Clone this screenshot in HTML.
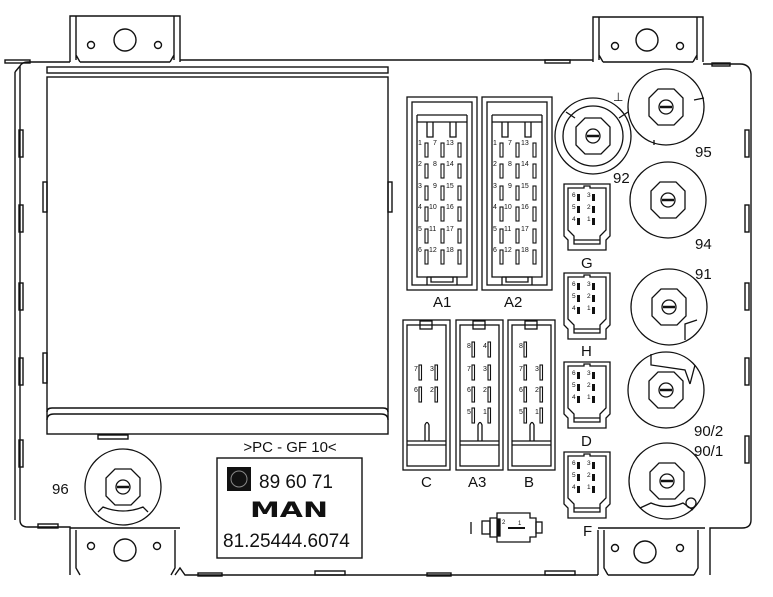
<!DOCTYPE html>
<html><head><meta charset="utf-8"><style>
html,body{margin:0;padding:0;background:#fff;}
svg{display:block;}
text{font-family:"Liberation Sans",Arial,sans-serif;fill:#111;}
</style></head><body>
<svg width="773" height="597" viewBox="0 0 773 597" xmlns="http://www.w3.org/2000/svg">
<defs>
<g id="sc" fill="none" stroke="#111" stroke-width="1.3">
  <path d="M0,0 H46 V52 L42,56 V66 H4 V56 L0,52 Z"/>
  <path d="M4,4 H20 V2 H26 V4 H42 V46 L36,52 V60 H10 V52 L4,46 Z"/>
  <line x1="10" y1="56" x2="36" y2="56"/>
  <g fill="#111" stroke="none">
    <rect x="13" y="10" width="3" height="7"/><rect x="28" y="10" width="3" height="7"/>
    <rect x="13" y="22" width="3" height="7"/><rect x="28" y="22" width="3" height="7"/>
    <rect x="13" y="34" width="3" height="7"/><rect x="28" y="34" width="3" height="7"/>
  </g>
</g>
<g id="big" fill="none" stroke="#111" stroke-width="1.3">
  <rect x="0" y="0" width="70" height="193"/>
  <rect x="5" y="5" width="60" height="183"/>
  <line x1="10" y1="18" x2="60" y2="18"/>
  <line x1="10" y1="25" x2="60" y2="25"/>
  <path d="M10,18 V180 H60 V18"/>
  <path d="M20,25 V40 H26 V25 M43,25 V40 H49 V25"/>
  <path d="M20,188 V180 M20,180 H50 V188 M24,180 V185 H46 V180"/>
  <g fill="none" stroke-width="1.1">
    <rect x="18" y="46" width="3" height="14"/><rect x="34" y="46" width="3" height="14"/><rect x="51" y="46" width="3" height="14"/>
    <rect x="18" y="67" width="3" height="14"/><rect x="34" y="67" width="3" height="14"/><rect x="51" y="67" width="3" height="14"/>
    <rect x="18" y="89" width="3" height="14"/><rect x="34" y="89" width="3" height="14"/><rect x="51" y="89" width="3" height="14"/>
    <rect x="18" y="110" width="3" height="14"/><rect x="34" y="110" width="3" height="14"/><rect x="51" y="110" width="3" height="14"/>
    <rect x="18" y="132" width="3" height="14"/><rect x="34" y="132" width="3" height="14"/><rect x="51" y="132" width="3" height="14"/>
    <rect x="18" y="153" width="3" height="14"/><rect x="34" y="153" width="3" height="14"/><rect x="51" y="153" width="3" height="14"/>
  </g>
</g>
<g id="tall" fill="none" stroke="#111" stroke-width="1.3">
  <rect x="0" y="0" width="47" height="150"/>
  <rect x="4" y="5" width="39" height="141"/>
  <rect x="17" y="1" width="12" height="8"/>
  <line x1="4" y1="121" x2="43" y2="121"/>
  <line x1="4" y1="125" x2="43" y2="125"/>
  <path d="M22,121 V105 Q24,100 26,105 V121"/>
</g>
<g id="fuse" fill="none" stroke="#111" stroke-width="1.3">
  <circle cx="0" cy="0" r="38"/>
  <path d="M-8,-18 H8 L17,-9 V9 L8,18 H-8 L-17,9 V-9 Z"/>
  <circle cx="0" cy="0" r="7"/>
  <line x1="-6" y1="0" x2="6" y2="0" stroke-width="2.5"/>
</g>
</defs>

<g fill="none" stroke="#111" stroke-width="1.4">
  <path d="M70,62 V16 H180 V62"/>
  <path d="M76,60 V16 M174,60 V16 M76,55 L80,62 M174,55 L170,62 M80,62 H170"/>
  <circle cx="125" cy="40" r="11"/><circle cx="91" cy="45" r="3.5"/><circle cx="158" cy="45" r="3.5"/>
  <path d="M593,62 V17 H703 V62"/>
  <path d="M599,60 V17 M697,60 V17 M599,55 L603,62 M697,55 L693,62 M603,62 H693"/>
  <circle cx="647" cy="40" r="11"/><circle cx="615" cy="46" r="3.5"/><circle cx="680" cy="46" r="3.5"/>
  <path d="M180,60 H593 M703,64 H740 Q750,64 751,74 V520 Q751,528 742,528 H710 V575 M20,66 Q22,62 28,62 H70 M20,66 V520 Q20,527 28,527 H70 V575"/>
  <line x1="15" y1="72" x2="15" y2="520"/>
  <line x1="20" y1="66" x2="15" y2="72"/>
  <path d="M76,530 V568 L80,575 M175,530 V568 L171,575 M70,528 H180 M175,575 L180,568 L185,575 H598 M598,530 V575 M604,530 V568 L608,575 M698,530 V568 L694,575 M598,528 H705 M608,575 H694"/>
  <circle cx="125" cy="550" r="11"/><circle cx="91" cy="546" r="3.5"/><circle cx="157" cy="546" r="3.5"/>
  <circle cx="645" cy="552" r="11"/><circle cx="615" cy="548" r="3.5"/><circle cx="680" cy="548" r="3.5"/>
  <rect x="47" y="67" width="341" height="6"/>
  <rect x="47" y="77" width="341" height="357"/>
  <path d="M47,412 Q47,408 52,408 H383 Q388,408 388,412"/>
  <path d="M47,420 Q47,414 54,414 H381 Q388,414 388,420"/>
  <rect x="43" y="182" width="4" height="30"/><rect x="43" y="353" width="4" height="30"/>
  <rect x="388" y="182" width="4" height="30"/>
  <rect x="98" y="435" width="30" height="4"/><rect x="38" y="524" width="20" height="4"/>
  <rect x="198" y="573" width="24" height="3"/><rect x="315" y="571" width="30" height="4"/>
  <rect x="427" y="573" width="24" height="3"/><rect x="545" y="571" width="30" height="4"/>
  <rect x="5" y="60" width="25" height="3"/><rect x="545" y="60" width="25" height="3"/><rect x="712" y="63" width="18" height="3"/>
  <rect x="19" y="130" width="4" height="27"/><rect x="19" y="205" width="4" height="27"/><rect x="19" y="283" width="4" height="27"/><rect x="19" y="358" width="4" height="27"/><rect x="19" y="440" width="4" height="27"/>
  <rect x="745" y="130" width="4" height="27"/><rect x="745" y="205" width="4" height="27"/><rect x="745" y="283" width="4" height="27"/><rect x="745" y="358" width="4" height="27"/><rect x="745" y="436" width="4" height="27"/>
</g>

<use href="#big" x="407" y="97"/>
<use href="#big" x="482" y="97"/>
<g font-size="7">
  <text x="418" y="145">1</text><text x="433" y="145">7</text><text x="446" y="145">13</text>
  <text x="418" y="166">2</text><text x="433" y="166">8</text><text x="446" y="166">14</text>
  <text x="418" y="188">3</text><text x="433" y="188">9</text><text x="446" y="188">15</text>
  <text x="418" y="209">4</text><text x="429" y="209">10</text><text x="446" y="209">16</text>
  <text x="418" y="231">5</text><text x="429" y="231">11</text><text x="446" y="231">17</text>
  <text x="418" y="252">6</text><text x="429" y="252">12</text><text x="446" y="252">18</text>
  <text x="493" y="145">1</text><text x="508" y="145">7</text><text x="521" y="145">13</text>
  <text x="493" y="166">2</text><text x="508" y="166">8</text><text x="521" y="166">14</text>
  <text x="493" y="188">3</text><text x="508" y="188">9</text><text x="521" y="188">15</text>
  <text x="493" y="209">4</text><text x="504" y="209">10</text><text x="521" y="209">16</text>
  <text x="493" y="231">5</text><text x="504" y="231">11</text><text x="521" y="231">17</text>
  <text x="493" y="252">6</text><text x="504" y="252">12</text><text x="521" y="252">18</text>
</g>
<text x="433" y="307" font-size="15">A1</text>
<text x="504" y="307" font-size="15">A2</text>

<use href="#tall" x="403" y="320"/>
<use href="#tall" x="456" y="320"/>
<use href="#tall" x="508" y="320"/>
<g fill="none" stroke="#111" stroke-width="1.1">
  <rect x="419" y="365" width="2.5" height="15"/><rect x="435" y="365" width="2.5" height="15"/>
  <rect x="419" y="387" width="2.5" height="15"/><rect x="435" y="387" width="2.5" height="15"/>
  <rect x="472" y="342" width="2.5" height="15"/><rect x="488" y="342" width="2.5" height="15"/>
  <rect x="472" y="365" width="2.5" height="15"/><rect x="488" y="365" width="2.5" height="15"/>
  <rect x="472" y="387" width="2.5" height="15"/><rect x="488" y="387" width="2.5" height="15"/>
  <rect x="472" y="408" width="2.5" height="15"/><rect x="488" y="408" width="2.5" height="15"/>
  <rect x="524" y="342" width="2.5" height="15"/>
  <rect x="524" y="365" width="2.5" height="15"/><rect x="540" y="365" width="2.5" height="15"/>
  <rect x="524" y="387" width="2.5" height="15"/><rect x="540" y="387" width="2.5" height="15"/>
  <rect x="524" y="408" width="2.5" height="15"/><rect x="540" y="408" width="2.5" height="15"/>
</g>
<g font-size="7">
  <text x="414" y="371">7</text><text x="430" y="371">3</text><text x="414" y="392">6</text><text x="430" y="392">2</text>
  <text x="467" y="348">8</text><text x="483" y="348">4</text><text x="467" y="371">7</text><text x="483" y="371">3</text>
  <text x="467" y="392">6</text><text x="483" y="392">2</text><text x="467" y="414">5</text><text x="483" y="414">1</text>
  <text x="519" y="348">8</text><text x="519" y="371">7</text><text x="535" y="371">3</text>
  <text x="519" y="392">6</text><text x="535" y="392">2</text><text x="519" y="414">5</text><text x="535" y="414">1</text>
</g>
<text x="421" y="487" font-size="15">C</text>
<text x="468" y="487" font-size="15">A3</text>
<text x="524" y="487" font-size="15">B</text>

<use href="#sc" x="564" y="184"/>
<use href="#sc" x="564" y="273"/>
<use href="#sc" x="564" y="362"/>
<use href="#sc" x="564" y="452"/>
<g font-size="6.5">
  <text x="572" y="197">6</text><text x="587" y="197">3</text><text x="572" y="209">5</text><text x="587" y="209">2</text><text x="572" y="221">4</text><text x="587" y="221">1</text>
  <text x="572" y="286">6</text><text x="587" y="286">3</text><text x="572" y="298">5</text><text x="587" y="298">2</text><text x="572" y="310">4</text><text x="587" y="310">1</text>
  <text x="572" y="375">6</text><text x="587" y="375">3</text><text x="572" y="387">5</text><text x="587" y="387">2</text><text x="572" y="399">4</text><text x="587" y="399">1</text>
  <text x="572" y="465">6</text><text x="587" y="465">3</text><text x="572" y="477">5</text><text x="587" y="477">2</text><text x="572" y="489">4</text><text x="587" y="489">1</text>
</g>
<text x="581" y="268" font-size="15">G</text>
<text x="581" y="356" font-size="15">H</text>
<text x="581" y="446" font-size="15">D</text>
<text x="583" y="536" font-size="15">F</text>

<use href="#fuse" x="593" y="136"/>
<circle cx="593" cy="136" r="30" fill="none" stroke="#111" stroke-width="1.3"/>
<use href="#fuse" x="666" y="107"/>
<use href="#fuse" x="668" y="200"/>
<use href="#fuse" x="669" y="307"/>
<use href="#fuse" x="666" y="390"/>
<use href="#fuse" x="667" y="481"/>
<use href="#fuse" x="123" y="487"/>
<g fill="none" stroke="#111" stroke-width="1.3">
  <path d="M694,100 L704,98 M654,140 V145"/>
  <path d="M697,320 L685,324 V340"/>
  <path d="M651,354 V365 L685,370 L690,384"/>
  <path d="M695,365 L690,384"/>
  <path d="M640,508 L651,503 Q667,510 683,503 L693,510"/>
  <circle cx="691" cy="503" r="5"/>
  <path d="M98,512 L103,507 Q123,515 143,507 L148,512"/>
  <path d="M566,112 L575,118 M619,118 L628,112"/>
</g>
<g font-size="15">
  <text x="695" y="157">95</text>
  <text x="613" y="183">92</text>
  <text x="695" y="249">94</text>
  <text x="695" y="279">91</text>
  <text x="694" y="436">90/2</text>
  <text x="694" y="456">90/1</text>
  <text x="52" y="494">96</text>
</g>
<text x="613" y="101" font-size="12">⊥</text>

<g fill="none" stroke="#111" stroke-width="1.3">
  <line x1="471" y1="522" x2="471" y2="534"/>
  <rect x="482" y="521" width="8" height="13"/>
  <path d="M490,518 H497 V513 H530 V518 H536 V537 H530 V542 H497 V537 H490 Z"/>
  <rect x="536" y="522" width="6" height="11"/>
  <line x1="508" y1="528" x2="525" y2="528" stroke-width="2"/>
  <rect x="497" y="519" width="3" height="17" fill="#111"/>
</g>
<g font-size="6"><text x="502" y="524">2</text><text x="518" y="525">1</text></g>

<text x="290" y="452" font-size="15" text-anchor="middle">&gt;PC - GF 10&lt;</text>
<rect x="217" y="458" width="145" height="100" fill="none" stroke="#111" stroke-width="1.4"/>
<rect x="227" y="467" width="24" height="24" fill="#111"/>
<circle cx="239" cy="479" r="8" fill="none" stroke="#888" stroke-width="1"/>
<text x="259" y="488" font-size="19">89 60 71</text>
<text x="289" y="517" font-size="21" font-weight="bold" text-anchor="middle" textLength="78" lengthAdjust="spacingAndGlyphs" style="font-family:'DejaVu Sans','Liberation Sans',sans-serif">MAN</text>
<text x="223" y="547" font-size="19">81.25444.6074</text>
</svg>
</body></html>
